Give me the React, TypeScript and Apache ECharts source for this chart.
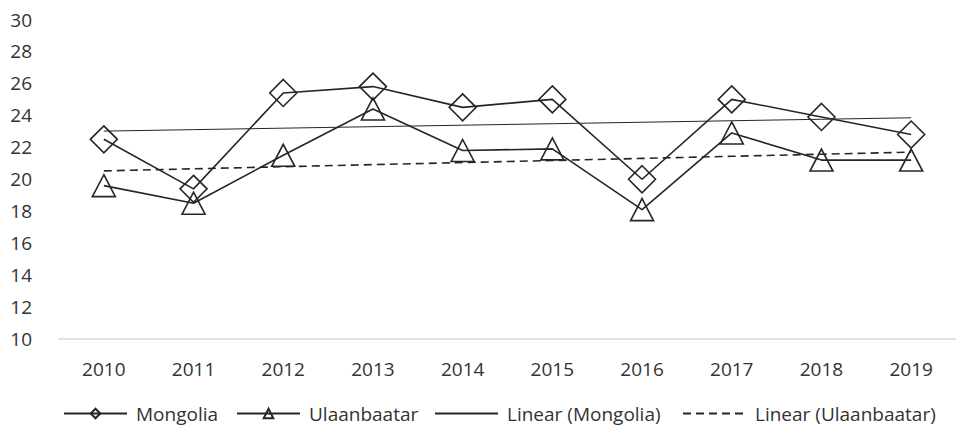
import React, { useEffect, useRef } from "react";
import * as echarts from "echarts";

const years = ["2010", "2011", "2012", "2013", "2014", "2015", "2016", "2017", "2018", "2019"];
const mongolia = [22.5, 19.4, 25.4, 25.8, 24.5, 25.0, 20.0, 25.0, 23.9, 22.8];
const ulaanbaatar = [19.6, 18.5, 21.5, 24.4, 21.8, 21.9, 18.1, 22.9, 21.2, 21.2];
const legendNames = ["Mongolia", "Ulaanbaatar", "Linear (Mongolia)", "Linear (Ulaanbaatar)"];

function linearFit(values: number[]): number[] {
  const n = values.length;
  const xm = (n - 1) / 2;
  const ym = values.reduce((a, b) => a + b, 0) / n;
  let sxy = 0;
  let sxx = 0;
  values.forEach((v, i) => {
    sxy += (i - xm) * (v - ym);
    sxx += (i - xm) * (i - xm);
  });
  const slope = sxy / sxx;
  return values.map((_, i) => +(ym + slope * (i - xm)).toFixed(3));
}

const INK = "#262626";
const TEXT = "#333333";
const FONT = "'Open Sans', sans-serif";

export default function App() {
  const ref = useRef<HTMLDivElement>(null);
  useEffect(() => {
    if (!ref.current) return;
    const chart = echarts.init(ref.current, undefined, { renderer: "svg" });
    const legendLefts = [63, 236, 434, 682];
    chart.setOption({
      animation: false,
      backgroundColor: "#ffffff",
      grid: { left: 59, top: 19.5, width: 907, height: 319.5, containLabel: false },
      legend: legendNames.map((name, i) => ({
        data: [
          i < 2
            ? { name }
            : { name, itemStyle: { color: "rgba(0,0,0,0)", borderColor: "rgba(0,0,0,0)", borderWidth: 0 } },
        ],
        left: legendLefts[i],
        top: 404,
        padding: 0,
        itemWidth: 63,
        itemHeight: 12,
        selectedMode: false,
        textStyle: { fontFamily: FONT, fontSize: 19, color: TEXT, padding: [0, 0, 0, 4] },
      })),
      xAxis: {
        type: "category",
        data: years,
        boundaryGap: true,
        axisLine: { show: true, lineStyle: { color: "#d9d9d9", width: 1.5 } },
        axisTick: { show: false },
        axisLabel: { fontFamily: FONT, fontSize: 19, color: TEXT, margin: 20 },
        splitLine: { show: false },
      },
      yAxis: {
        type: "value",
        min: 10,
        max: 30,
        interval: 2,
        axisLine: { show: false },
        axisTick: { show: false },
        splitLine: { show: false },
        axisLabel: { fontFamily: FONT, fontSize: 19, color: TEXT, margin: 27 },
      },
      series: [
        {
          name: "Mongolia",
          type: "line",
          data: mongolia,
          symbol: "diamond",
          symbolSize: [27, 27],
          lineStyle: { color: INK, width: 1.6 },
          itemStyle: { color: "rgba(0,0,0,0)", borderColor: INK, borderWidth: 1.6 },
          z: 3,
        },
        {
          name: "Ulaanbaatar",
          type: "line",
          data: ulaanbaatar,
          symbol: "triangle",
          symbolSize: [23, 22],
          lineStyle: { color: INK, width: 1.6 },
          itemStyle: { color: "rgba(0,0,0,0)", borderColor: INK, borderWidth: 1.6 },
          z: 3,
        },
        {
          name: "Linear (Mongolia)",
          type: "line",
          data: linearFit(mongolia),
          symbol: "none",
          showSymbol: false,
          lineStyle: { color: INK, width: 1 },
          itemStyle: { color: INK },
          z: 2,
        },
        {
          name: "Linear (Ulaanbaatar)",
          type: "line",
          data: linearFit(ulaanbaatar),
          symbol: "none",
          showSymbol: false,
          lineStyle: { color: INK, width: 1.6, type: [8, 5] },
          itemStyle: { color: INK },
          z: 2,
        },
      ],
    });
    return () => chart.dispose();
  }, []);
  return (
    <div
      ref={ref}
      style={{ position: "fixed", left: 0, top: 0, width: 956, height: 426, background: "#fff" }}
    />
  );
}
